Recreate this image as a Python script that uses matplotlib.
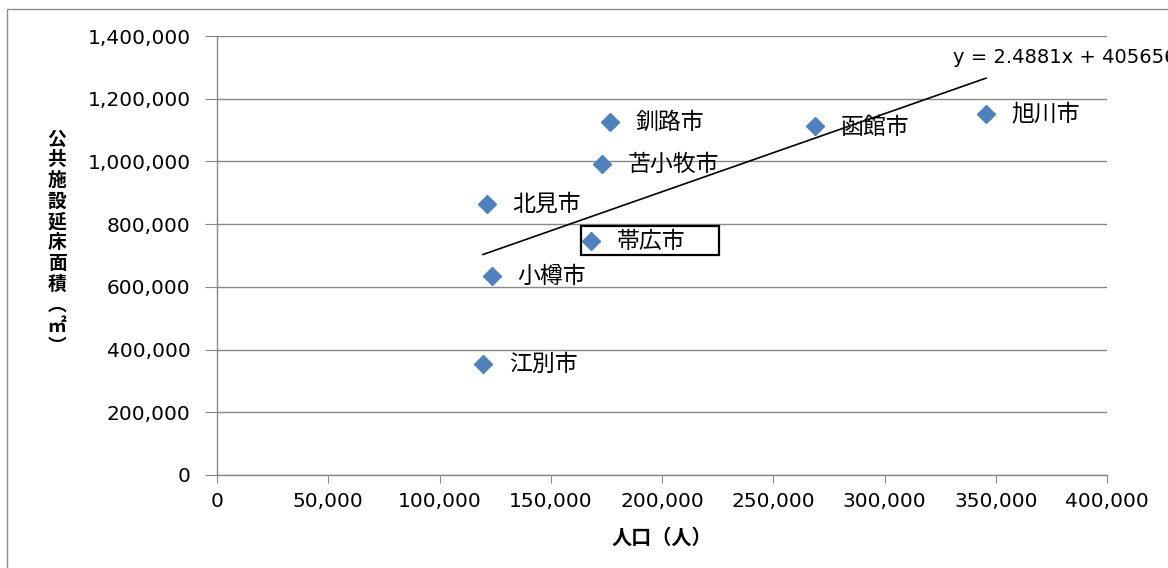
import numpy as np
import matplotlib
matplotlib.use("Agg")
import matplotlib.pyplot as plt
from matplotlib.patches import Rectangle
from matplotlib.ticker import FuncFormatter
import matplotlib.transforms as mtransforms

plt.rcParams['font.family'] = ['DejaVu Sans', 'Noto Sans CJK JP']

# Dades llegides del gràfic
ciutats = ["釧路市", "苫小牧市", "北見市", "帯広市", "小樽市", "江別市", "函館市", "旭川市"]
poblacio = [176600, 173000, 121300, 168100, 123600, 119600, 268800, 345600]
superficie = [1125700, 991800, 864200, 746200, 634600, 354000, 1113000, 1151000]
pendent = 2.4881
interseccio = 405656
etiqueta_eq = "y = 2.4881x + 405656"
xlabel = "人口（人）"
ylabel_chars = ["公", "共", "施", "設", "延", "床", "面", "積", "︵", "㎡", "︶"]
x_ticks = [0, 50000, 100000, 150000, 200000, 250000, 300000, 350000, 400000]
y_ticks = [0, 200000, 400000, 600000, 800000, 1000000, 1200000, 1400000]

gris = "#888888"
blau = "#4F81BD"

fig = plt.figure(figsize=(11.68, 5.68), dpi=100)
ax = fig.add_axes([217/1168, 93/568, 890/1168, 439/568])

ax.plot(poblacio, superficie, linestyle="none", marker="D", markersize=9,
        color=blau, zorder=3)

# línia de tendència
xs = np.array([min(poblacio), max(poblacio)])
ys = pendent * xs + interseccio
ax.plot(xs, ys, color="black", linewidth=1.2, zorder=2)
ax.annotate(etiqueta_eq, (xs[-1], ys[-1]), xytext=(-24, 15), textcoords="offset points",
            ha="left", va="center", fontsize=14, annotation_clip=False)

# etiquetes de les ciutats
for nom, x, y in zip(ciutats, poblacio, superficie):
    dy = -1 if nom == "函館市" else 0
    ax.annotate(nom, (x, y), xytext=(18.5, dy), textcoords="offset points",
                ha="left", va="center", fontsize=16.5, family=["Noto Sans CJK JP"],
                zorder=4)

# caixa al voltant de 帯広市 (en píxels, ancorada al punt)
i = ciutats.index("帯広市")
trans = mtransforms.Affine2D().scale(fig.dpi / 100) + \
    mtransforms.ScaledTranslation(poblacio[i], superficie[i], ax.transData)
ax.add_patch(Rectangle((-10, -14), 138, 29, transform=trans, fill=False,
                       edgecolor="black", linewidth=1.6, zorder=5, clip_on=False))

ax.set_xlim(0, 400000)
ax.set_ylim(0, 1400000)
ax.set_xticks(x_ticks)
ax.set_yticks(y_ticks)
fmt = FuncFormatter(lambda v, p: f"{int(v):,}")
ax.xaxis.set_major_formatter(fmt)
ax.yaxis.set_major_formatter(fmt)
ax.tick_params(axis="x", length=6, color=gris, labelsize=14.5, pad=6)
ax.tick_params(axis="y", length=9, color=gris, labelsize=14.5, pad=10)

ax.grid(axis="y", color=gris, linewidth=1)
ax.set_axisbelow(True)
for s in ["top", "right"]:
    ax.spines[s].set_visible(False)
for s in ["left", "bottom"]:
    ax.spines[s].set_color(gris)
    ax.spines[s].set_linewidth(1)

fig.text(662/1168, 1 - 537/568, xlabel, ha="center", va="center", fontsize=14.5,
         fontweight="bold", family=["Noto Sans CJK JP"])
fig.text(57/1168, 1 - 243/568, "\n".join(ylabel_chars), ha="center", va="center",
         fontsize=13.5, fontweight="bold", family=["Noto Sans CJK JP"], linespacing=1.12)

# vora exterior
fig.patches.append(Rectangle((7/1168, -0.1), 1.2, 1.1 - 9/568, transform=fig.transFigure,
                             fill=False, edgecolor="#8c8c8c", linewidth=1))

fig.savefig("out.png", dpi=100)
